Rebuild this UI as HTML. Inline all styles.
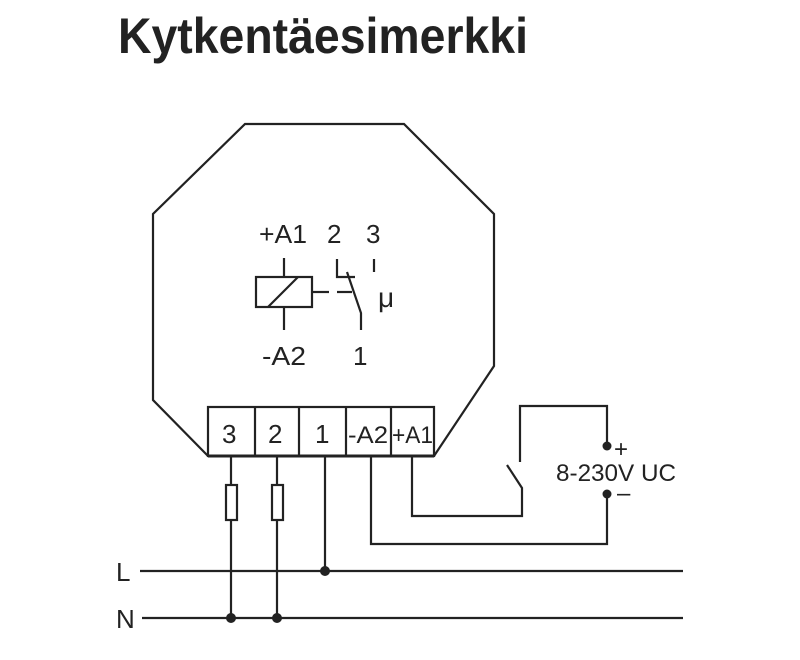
<!DOCTYPE html>
<html><head><meta charset="utf-8"><style>
html,body{margin:0;padding:0;background:#fff;width:800px;height:660px;overflow:hidden}
svg{display:block}
text{font-family:"Liberation Sans",sans-serif;fill:#222}
</style></head><body>
<svg width="800" height="660" viewBox="0 0 800 660" xmlns="http://www.w3.org/2000/svg">
<text x="118" y="53" font-size="50" font-weight="bold" textLength="410" lengthAdjust="spacingAndGlyphs" fill="#2a2a2a">Kytkentäesimerkki</text>
<g stroke="#222" stroke-width="2.2" fill="none">
<polyline points="208,456 153,400 153,214 245,124 404,124 494,214 494,366 434,456"/>
<rect x="208" y="407" width="226" height="49" fill="#fff"/>
<line x1="255" y1="407" x2="255" y2="456"/><line x1="299" y1="407" x2="299" y2="456"/>
<line x1="346" y1="407" x2="346" y2="456"/><line x1="391" y1="407" x2="391" y2="456"/>
<line x1="208" y1="456" x2="434" y2="456" stroke-width="3"/>
<rect x="256" y="277" width="56" height="30"/>
<line x1="284" y1="258" x2="284" y2="277"/><line x1="284" y1="307" x2="284" y2="330"/>
<line x1="268" y1="307" x2="298" y2="277"/>
<line x1="313" y1="292" x2="329" y2="292"/><line x1="337" y1="292" x2="352" y2="292"/>
<polyline points="337,259 337,277 355,277"/>
<polyline points="347,272 361,313 361,330"/>
<line x1="374" y1="259" x2="374" y2="272"/>
<line x1="231" y1="456" x2="231" y2="618"/><line x1="277" y1="456" x2="277" y2="618"/>
<line x1="325" y1="456" x2="325" y2="571"/>
<rect x="226" y="485" width="11" height="35" fill="#fff"/>
<rect x="272" y="485" width="11" height="35" fill="#fff"/>
<polyline points="371,456 371,544 607,544 607,494"/>
<polyline points="412,456 412,516 522,516 522,488 507,465"/>
<polyline points="520,462 520,406 607,406 607,446"/>
<line x1="140" y1="571" x2="683" y2="571"/>
<line x1="142" y1="618" x2="683" y2="618"/>
</g>
<g fill="#222">
<circle cx="607" cy="446" r="4.5"/><circle cx="607" cy="494" r="4.5"/>
<circle cx="325" cy="571" r="5"/><circle cx="231" cy="618" r="5"/><circle cx="277" cy="618" r="5"/>
</g>
<g font-size="26">
<text x="259" y="243" textLength="48" lengthAdjust="spacingAndGlyphs">+A1</text><text x="327" y="243">2</text><text x="366" y="243">3</text>
<text x="262" y="365" textLength="44" lengthAdjust="spacingAndGlyphs">-A2</text><text x="353" y="365">1</text>
<text x="378" y="307" font-size="28">μ</text>
<text x="222" y="443">3</text><text x="268" y="443">2</text><text x="315" y="443">1</text>
<text x="348" y="443" font-size="24" textLength="40" lengthAdjust="spacingAndGlyphs">-A2</text>
<text x="392" y="443" font-size="24" textLength="41" lengthAdjust="spacingAndGlyphs">+A1</text>
<text x="556" y="481" font-size="24" textLength="120" lengthAdjust="spacingAndGlyphs">8-230V UC</text>
<text x="614" y="457" font-size="24">+</text><text x="617" y="501" font-size="24">–</text>
<text x="116" y="581">L</text><text x="116" y="628">N</text>
</g>
</svg>
</body></html>
